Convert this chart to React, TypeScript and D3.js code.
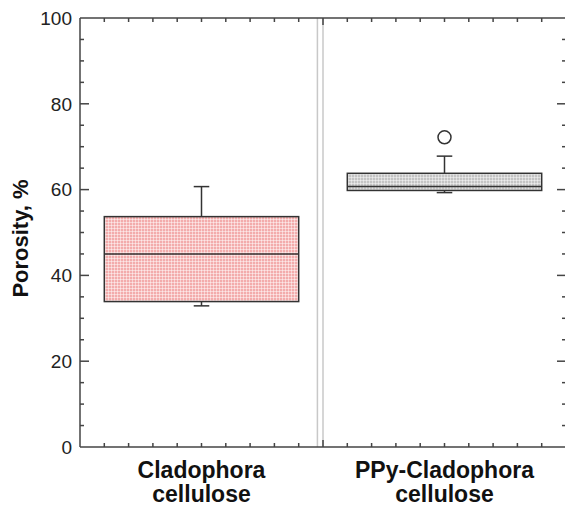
import React from 'react';
import * as d3 from 'd3';

const categories = [['Cladophora', 'cellulose'], ['PPy-Cladophora', 'cellulose']];
const whiskerLow = [32.9, 59.3];
const q1 = [33.9, 59.8];
const median = [45.0, 60.7];
const q3 = [53.7, 63.8];
const whiskerHigh = [60.7, 67.8];
const outliers = [[], [72.2]];
const yTicks = [0, 20, 40, 60, 80, 100];
const fills = ['url(#pinkGrid)', 'url(#grayGrid)'];

const W = 565, H = 507;
const left = 80, right = 566, top = 18, bottom = 447;
const font = 'Liberation Sans, Arial, Helvetica, sans-serif';
const ink = '#333';

export default function App() {
  const x = d3.scaleLinear().domain([0, 20]).range([left, right]);
  const y = d3.scaleLinear().domain([0, 100]).range([bottom, top]);
  const xMinor = d3.range(1, 20);
  const yMinor = d3.range(5, 100, 5).filter(v => v % 20 !== 0);
  const centers = [5, 15];
  const halfBox = 4;
  const cap = 0.32;

  return (
    <svg width={W} height={H} style={{ position: 'absolute', left: 0, top: 0, background: '#fff' }}>
      <defs>
        <pattern id="pinkGrid" width="3" height="3" patternUnits="userSpaceOnUse">
          <rect width="3" height="3" fill="#f3acac" />
          <path d="M0 0.4H3M0.4 0V3" stroke="#fff" strokeWidth="0.7" strokeOpacity="0.75" />
        </pattern>
        <pattern id="grayGrid" width="3" height="3" patternUnits="userSpaceOnUse">
          <rect width="3" height="3" fill="#c4c4c4" />
          <path d="M0 0.4H3M0.4 0V3" stroke="#fff" strokeWidth="0.7" strokeOpacity="0.7" />
        </pattern>
      </defs>

      {/* separator */}
      <line x1={x(9.77)} x2={x(9.77)} y1={top} y2={bottom} stroke="#c8c8c8" strokeWidth={1.5} />
      <line x1={x(10)} x2={x(10)} y1={top} y2={bottom} stroke="#c8c8c8" strokeWidth={1.5} />

      {/* boxes */}
      {centers.map((c, i) => (
        <g key={i} stroke={ink} strokeWidth={1.5}>
          <line x1={x(c)} x2={x(c)} y1={y(q3[i])} y2={y(whiskerHigh[i])} />
          <line x1={x(c - cap)} x2={x(c + cap)} y1={y(whiskerHigh[i])} y2={y(whiskerHigh[i])} />
          <line x1={x(c)} x2={x(c)} y1={y(q1[i])} y2={y(whiskerLow[i])} />
          <line x1={x(c - cap)} x2={x(c + cap)} y1={y(whiskerLow[i])} y2={y(whiskerLow[i])} />
          <rect x={x(c - halfBox)} y={y(q3[i])} width={x(c + halfBox) - x(c - halfBox)}
            height={y(q1[i]) - y(q3[i])} fill={fills[i]} />
          <line x1={x(c - halfBox)} x2={x(c + halfBox)} y1={y(median[i])} y2={y(median[i])} />
          {outliers[i].map((v, j) => (
            <circle key={j} cx={x(c)} cy={y(v)} r={6.5} fill="#fff" />
          ))}
        </g>
      ))}

      {/* frame */}
      <g stroke="#444" strokeWidth={1.5} fill="none">
        <line x1={left} x2={right} y1={top} y2={top} />
        <line x1={left} x2={right} y1={bottom} y2={bottom} />
        <line x1={left} x2={left} y1={top} y2={bottom} />
        <line x1={right} x2={right} y1={top} y2={bottom} />
        {xMinor.map(t => {
          const len = t === 10 ? 7 : 4;
          return (
            <g key={t}>
              <line x1={x(t)} x2={x(t)} y1={bottom} y2={bottom - len} />
              <line x1={x(t)} x2={x(t)} y1={top} y2={top + len} />
            </g>
          );
        })}
        {yTicks.slice(1, -1).map(t => (
          <g key={t}>
            <line x1={left} x2={left + 9} y1={y(t)} y2={y(t)} />
            <line x1={right} x2={right - 9} y1={y(t)} y2={y(t)} />
          </g>
        ))}
        {yMinor.map(t => (
          <g key={t}>
            <line x1={left} x2={left + 4} y1={y(t)} y2={y(t)} />
            <line x1={right} x2={right - 4} y1={y(t)} y2={y(t)} />
          </g>
        ))}
      </g>

      {/* y tick labels */}
      {yTicks.map(t => (
        <text key={t} x={left - 8} y={y(t)} dy="0.36em" textAnchor="end"
          fontFamily={font} fontSize={19} fill="#222">{t}</text>
      ))}

      {/* y title */}
      <text transform={`translate(28,${(top + bottom) / 2 + 6}) rotate(-90)`} textAnchor="middle"
        fontFamily={font} fontSize={22} fontWeight="bold" fill="#111">Porosity, %</text>

      {/* category labels */}
      {categories.map((lines, i) => (
        <text key={i} textAnchor="middle" fontFamily={font} fontSize={23} fontWeight="bold" fill="#111">
          {lines.map((l, k) => (
            <tspan key={k} x={x(centers[i])} y={478 + k * 24}>{l}</tspan>
          ))}
        </text>
      ))}
    </svg>
  );
}
